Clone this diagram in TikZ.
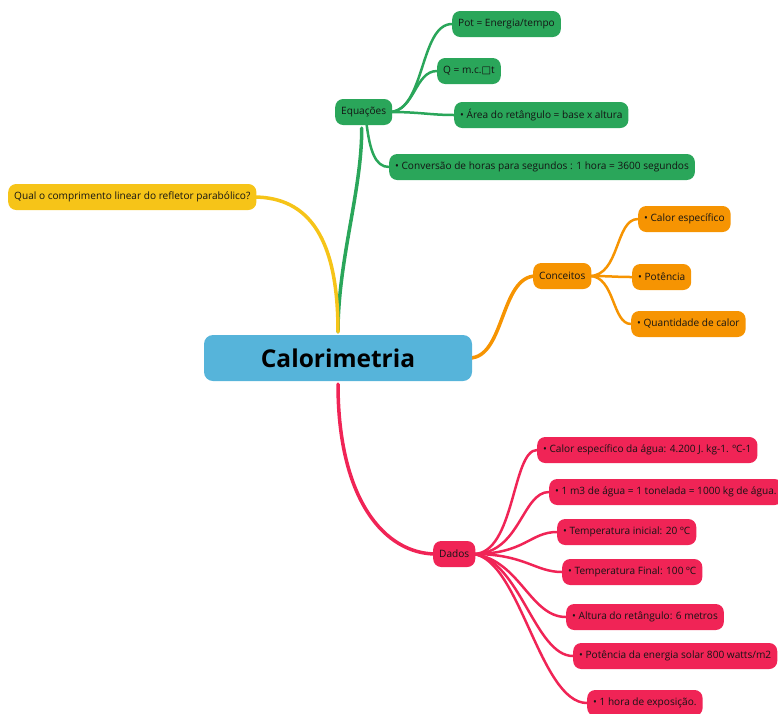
\documentclass[tikz,border=0pt]{standalone}
\usepackage{fontspec}
\setmainfont{Open Sans}
\newfontfamily\symfont{DejaVu Sans}
\usetikzlibrary{backgrounds}
\definecolor{cgreen}{RGB}{42,166,90}
\definecolor{cyellow}{RGB}{246,196,24}
\definecolor{corange}{RGB}{246,148,2}
\definecolor{cred}{RGB}{240,36,86}
\definecolor{cblue}{RGB}{86,180,218}
\definecolor{ctext}{RGB}{20,20,20}
\tikzset{
  topic/.style={rounded corners=8pt, minimum height=26pt, inner xsep=6pt, inner ysep=0pt,
    font=\fontsize{10.1}{12}\selectfont, text=ctext, anchor=west},
  gtopic/.style={topic, fill=cgreen},
  ytopic/.style={topic, fill=cyellow},
  otopic/.style={topic, fill=corange},
  rtopic/.style={topic, fill=cred},
  central/.style={rounded corners=9pt, fill=cblue, minimum width=268pt, minimum height=46pt,
    font=\fontsize{24.5}{28}\bfseries, text=black},
  mainline/.style={line width=3.5pt, line cap=round},
  subline/.style={line width=2.5pt, line cap=round},
}
\begin{document}
\begin{tikzpicture}[x=1pt,y=-1pt]
\useasboundingbox (0,0) rectangle (778,713);
% nodes
\node[central] (cal) at (338,358) {Calorimetria};
\node[gtopic] (eq) at (335,112) {Equações};
\node[gtopic] (pot) at (452,24) {Pot = Energia/tempo};
\node[gtopic] (q) at (437,71) {Q = m.c.{\symfont □}t};
\node[gtopic] (area) at (454,115) {• Área do retângulo = base x altura};
\node[gtopic] (conv) at (389,167) {• Conversão de horas para segundos : 1 hora = 3600 segundos};
\node[ytopic] (qual) at (8,197) {Qual o comprimento linear do refletor parabólico?};
\node[otopic] (conc) at (533,276) {Conceitos};
\node[otopic] (ce) at (638,219) {• Calor específico};
\node[otopic] (potc) at (632,277) {• Potência};
\node[otopic] (qc) at (631,324) {• Quantidade de calor};
\node[rtopic] (dad) at (433,554) {Dados};
\node[rtopic] (d1) at (537,450) {• Calor específico da água: 4.200 J. kg-1. ºC-1};
\node[rtopic] (d2) at (549,492) {• 1 m3 de água = 1 tonelada = 1000 kg de água.};
\node[rtopic] (d3) at (557,532) {• Temperatura inicial: 20 ºC};
\node[rtopic] (d4) at (562,572) {• Temperatura Final: 100 ºC};
\node[rtopic] (d5) at (566,617) {• Altura do retângulo: 6 metros};
\node[rtopic] (d6) at (573,656) {• Potência da energia solar 800 watts/m2};
\node[rtopic] (d7) at (587,703) {• 1 hora de exposição.};
\begin{pgfonlayer}{background}
% main branches
\draw[mainline, cgreen] ([yshift=3pt]cal.north) .. controls (338,260) and (362,190) .. ([xshift=-2pt,yshift=-3pt]eq.south);
\draw[mainline, cyellow] ([yshift=3pt]cal.north) .. controls (338,240) and (310,197) .. ([xshift=-3pt]qual.east);
\draw[mainline, corange] ([xshift=-3pt]cal.east) .. controls (505,358) and (500,276) .. ([xshift=3pt]conc.west);
\draw[mainline, cred] ([yshift=-3pt]cal.south) .. controls (338,500) and (385,554) .. ([xshift=3pt]dad.west);
% sub branches
\draw[subline, cgreen] ([xshift=-2pt]eq.east) .. controls (425,110) and (420,24) .. (pot.west);
\draw[subline, cgreen] ([xshift=-2pt]eq.east) .. controls (415,110) and (415,71) .. (q.west);
\draw[subline, cgreen] ([xshift=-2pt]eq.east) .. controls (420,112) and (430,115) .. (area.west);
\draw[subline, cgreen] ([xshift=3pt]eq.south) .. controls (370,150) and (375,167) .. (conv.west);
\draw[subline, corange] ([xshift=-2pt]conc.east) .. controls (620,276) and (615,219) .. (ce.west);
\draw[subline, corange] ([xshift=-2pt]conc.east) .. controls (610,276) and (615,277) .. (potc.west);
\draw[subline, corange] ([xshift=-2pt]conc.east) .. controls (615,276) and (612,324) .. (qc.west);
\draw[subline, cred] ([xshift=-2pt]dad.east) .. controls (515,554) and (512,450) .. (d1.west);
\draw[subline, cred] ([xshift=-2pt]dad.east) .. controls (520,554) and (522,492) .. (d2.west);
\draw[subline, cred] ([xshift=-2pt]dad.east) .. controls (525,554) and (530,532) .. (d3.west);
\draw[subline, cred] ([xshift=-2pt]dad.east) .. controls (525,554) and (535,572) .. (d4.west);
\draw[subline, cred] ([xshift=-2pt]dad.east) .. controls (520,560) and (530,617) .. (d5.west);
\draw[subline, cred] ([xshift=-2pt]dad.east) .. controls (520,560) and (535,656) .. (d6.west);
\draw[subline, cred] ([xshift=-2pt]dad.east) .. controls (520,560) and (540,703) .. (d7.west);
\end{pgfonlayer}
\end{tikzpicture}
\end{document}
